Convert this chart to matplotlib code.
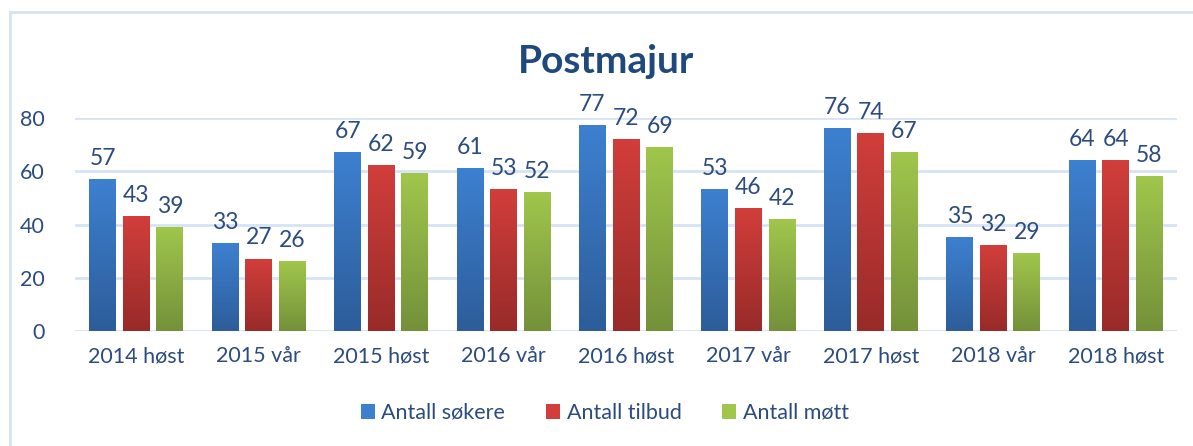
import numpy as np
import matplotlib.pyplot as plt
from matplotlib.colors import LinearSegmentedColormap
from matplotlib.patches import Patch
from matplotlib.lines import Line2D

# Data
kategorier = ['2014 høst', '2015 vår', '2015 høst', '2016 vår', '2016 høst',
              '2017 vår', '2017 høst', '2018 vår', '2018 høst']
sokere = [57, 33, 67, 61, 77, 53, 76, 35, 64]
tilbud = [43, 27, 62, 53, 72, 46, 74, 32, 64]
mott = [39, 26, 59, 52, 69, 42, 67, 29, 58]
serienavn = ['Antall søkere', 'Antall tilbud', 'Antall møtt']

plt.rcParams['font.family'] = ['Lato', 'DejaVu Sans']
tekstfarge = '#2B4C7E'

# (topp, bunn) farge for gradient
farger = [('#3D80D0', '#2D5D9A'), ('#D13E3B', '#982B29'), ('#A0C64C', '#74913A')]

fig = plt.figure(figsize=(11.93, 4.46), dpi=100)
ax = fig.add_axes([0.0629, 0.2578, 0.9237, 0.4776])

x = np.arange(len(kategorier))
bredde = 0.22
avstand = 0.274

for i, verdier in enumerate([sokere, tilbud, mott]):
    cmap = LinearSegmentedColormap.from_list('g%d' % i, [farger[i][1], farger[i][0]])
    for xi, v in zip(x, verdier):
        x0 = xi + (i - 1) * avstand - bredde / 2
        grad = np.linspace(0, 1, 100).reshape(-1, 1)
        ax.imshow(grad, cmap=cmap, origin='lower', aspect='auto',
                  extent=[x0, x0 + bredde, 0, v], zorder=3)
        ax.text(xi + (i - 1) * avstand, v + 4, str(v), ha='center', va='bottom',
                fontsize=16.5, color=tekstfarge)

ax.set_xlim(-0.5, len(kategorier) - 0.5)
ax.set_ylim(0, 80)
ax.set_yticks([0, 20, 40, 60, 80])
ax.set_xticks(x)
ax.set_xticklabels(kategorier)
ax.tick_params(axis='both', length=0, labelsize=15.5, labelcolor=tekstfarge)
ax.tick_params(axis='x', pad=11)
ax.tick_params(axis='y', pad=22)
ax.grid(axis='y', color='#D6E3F3', linewidth=2, zorder=0)
ax.set_axisbelow(True)
for s in ax.spines.values():
    s.set_visible(False)
ax.axhline(0, color='#D6E3F3', linewidth=2, zorder=1)

fig.text(0.508, 0.862, 'Postmajur', ha='center', va='center', fontsize=28,
         fontweight='bold', color='#1F497D')

# ramme rundt diagrammet
fig.add_artist(Line2D([10 / 1193, 10 / 1193], [0, 1 - 12 / 446], color='#D6E3F3', linewidth=2))
fig.add_artist(Line2D([10 / 1193, 1], [1 - 12 / 446, 1 - 12 / 446], color='#D6E3F3', linewidth=2))

handles = [Patch(facecolor=farger[i][0], edgecolor='none') for i in range(3)]
fig.legend(handles, serienavn, loc='center', bbox_to_anchor=(0.507, 0.074), ncol=3,
           frameon=False, fontsize=15.5, labelcolor=tekstfarge, handlelength=0.65,
           handleheight=0.65, handletextpad=0.3, columnspacing=1.9)

fig.savefig('out.png', dpi=100)
